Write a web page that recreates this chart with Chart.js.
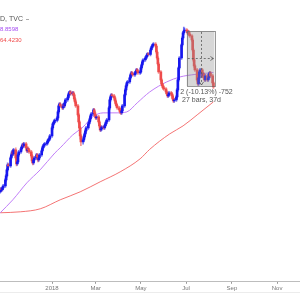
<!DOCTYPE html>
<html><head><meta charset="utf-8">
<script src="https://cdn.jsdelivr.net/npm/chart.js@4.4.1/dist/chart.umd.min.js"></script>
<style>html,body{margin:0;padding:0;background:#fff;}canvas{display:block;}</style>
</head><body>
<canvas id="c" width="300" height="300"></canvas>
<script>
// ---- data ----
const firstBarDate = '2017-10-23';
const opens = [5230,5243,5270,5257,5284, 5311,5393,5448,5530,5598, 5584,5693,5734,5775,5748, 5803,5693,5611,5639,5734,
 5775,5816,5843,5871,5857, 5884,5830,5789,5816,5803, 5775,5721,5652,5625,5666, 5693,5734,5707,5666,5693,
 5734,5789,5830,5857,5871, 5884,5898,5925,5939,5953, 5994,6103,6157,6171,6198, 6205,6239,6321,6403,6430,
 6403,6376,6417,6403,6444, 6485,6512,6553,6581,6594, 6567,6581,6553,6499,6458, 6403,6280,6185,6103,5994,
 5912,5939,5980,6021,6062, 6103,6157,6185,6226,6267, 6294,6349,6308,6267,6239, 6253,6185,6130,6076,6089,
 6116,6103,6130,6157,6185, 6212,6376,6485,6526,6553, 6540,6512,6471,6430,6403, 6376,6349,6321,6308,6335,
 6403,6553,6622,6676,6717, 6731,6785,6826,6854,6840, 6826,6854,6867,6895,6881, 6854,6867,6922,6963,7004,
 7031,7058,7072,7099,7113, 7106,7167,7195,7222,7236, 7249,7222,7140,7058,6976, 6867,6758,6703,6676,6649,
 6635,6594,6567,6540,6553, 6581,6567,6540,6499,6471, 6485,6526,6622,6758,6922, 7058,7236,7331,7400,7427,
 7440,7427,7400,7413,7386, 7359,7304,7167,7031,6949, 6895,6758,6703,6785,6867, 6895,6813,6840,6785,6758,
 6813,6758,6785,6840,6854, 6813,6717];
const highs = [5263,5290,5290,5304,5331, 5413,5468,5550,5625,5618, 5713,5754,5795,5809,5823, 5830,5713,5659,5754,5795,
 5836,5863,5891,5898,5904, 5904,5850,5836,5843,5823, 5795,5741,5672,5686,5713, 5754,5754,5727,5713,5754,
 5809,5850,5877,5891,5904, 5918,5945,5959,5973,6014, 6123,6177,6191,6218,6225, 6259,6341,6423,6450,6450,
 6423,6437,6437,6464,6505, 6532,6573,6601,6614,6614, 6601,6601,6573,6519,6478, 6423,6300,6205,6123,6014,
 5959,6000,6041,6082,6123, 6177,6205,6246,6287,6314, 6369,6369,6328,6287,6273, 6273,6205,6150,6109,6136,
 6136,6150,6177,6205,6232, 6396,6505,6546,6573,6573, 6560,6532,6491,6450,6423, 6396,6369,6341,6355,6423,
 6573,6642,6696,6737,6751, 6805,6846,6874,6874,6860, 6874,6887,6915,6915,6901, 6887,6942,6983,7024,7051,
 7078,7092,7119,7133,7133, 7187,7215,7242,7256,7269, 7269,7242,7160,7078,6996, 6887,6778,6723,6696,6669,
 6655,6614,6587,6573,6601, 6601,6587,6560,6519,6505, 6546,6642,6778,6942,7078, 7256,7351,7420,7481,7468,
 7460,7447,7433,7433,7406, 7379,7324,7187,7051,6969, 6915,6778,6805,6887,6915, 6915,6860,6860,6805,6833,
 6833,6805,6860,6874,6874, 6833,6737];
const lows = [5210,5223,5237,5243,5264, 5291,5373,5428,5510,5564, 5564,5673,5714,5728,5728, 5673,5584,5591,5619,5714,
 5755,5796,5823,5837,5837, 5810,5769,5769,5783,5755, 5701,5625,5598,5605,5646, 5673,5687,5639,5646,5673,
 5714,5769,5810,5837,5851, 5864,5878,5905,5919,5933, 5974,6083,6137,6151,6178, 6185,6219,6301,6383,6383,
 6356,6356,6383,6383,6424, 6465,6492,6533,6561,6547, 6547,6533,6479,6438,6383, 6260,6165,6083,5950,5860,
 5880,5919,5960,6001,6042, 6083,6137,6165,6206,6247, 6274,6288,6247,6219,6219, 6165,6110,6056,6056,6069,
 6083,6083,6110,6137,6165, 6192,6356,6465,6506,6520, 6492,6451,6410,6383,6356, 6329,6301,6288,6288,6315,
 6383,6533,6602,6656,6697, 6711,6765,6806,6820,6806, 6806,6834,6847,6861,6834, 6834,6847,6902,6943,6984,
 7011,7038,7052,7079,7086, 7086,7147,7175,7202,7216, 7202,7120,7038,6956,6847, 6738,6683,6656,6629,6615,
 6574,6547,6520,6520,6533, 6547,6520,6479,6451,6451, 6465,6506,6602,6738,6902, 7038,7216,7311,7380,7407,
 7407,7380,7380,7366,7339, 7284,7147,7011,6929,6875, 6738,6683,6683,6765,6847, 6793,6793,6765,6738,6738,
 6738,6738,6765,6820,6793, 6697,6642];
const closes = [5243,5270,5257,5284,5311, 5393,5448,5530,5598,5584, 5693,5734,5775,5748,5803, 5693,5611,5639,5734,5775,
 5816,5843,5871,5857,5884, 5830,5789,5816,5803,5775, 5721,5652,5625,5666,5693, 5734,5707,5666,5693,5734,
 5789,5830,5857,5871,5884, 5898,5925,5939,5953,5994, 6103,6157,6171,6198,6205, 6239,6321,6403,6430,6403,
 6376,6417,6403,6444,6485, 6512,6553,6581,6594,6567, 6581,6553,6499,6458,6403, 6280,6185,6103,5994,5912,
 5939,5980,6021,6062,6103, 6157,6185,6226,6267,6294, 6349,6308,6267,6239,6253, 6185,6130,6076,6089,6116,
 6103,6130,6157,6185,6212, 6376,6485,6526,6553,6540, 6512,6471,6430,6403,6376, 6349,6321,6308,6335,6403,
 6553,6622,6676,6717,6731, 6785,6826,6854,6840,6826, 6854,6867,6895,6881,6854, 6867,6922,6963,7004,7031,
 7058,7072,7099,7113,7106, 7167,7195,7222,7236,7249, 7222,7140,7058,6976,6867, 6758,6703,6676,6649,6635,
 6594,6567,6540,6553,6581, 6567,6540,6499,6471,6485, 6526,6622,6758,6922,7058, 7236,7331,7400,7427,7440,
 7427,7400,7413,7386,7359, 7304,7167,7031,6949,6895, 6758,6703,6785,6867,6895, 6813,6840,6785,6758,6813,
 6758,6785,6840,6854,6813, 6717,6662];

const maFastDates = ['2017-10-23','2017-11-09','2017-11-28','2017-12-16','2018-01-05','2018-01-12','2018-01-29','2018-02-12','2018-02-25','2018-03-11','2018-03-30','2018-04-12','2018-04-26','2018-05-13','2018-06-05','2018-06-23','2018-07-13','2018-08-07'];
const maFastValues = [4943,5120,5352,5530,5762,5830,6007,6116,6253,6308,6308,6321,6444,6594,6731,6799,6833,6859];
const maSlowDates = ['2017-10-23','2017-11-19','2017-12-16','2018-01-12','2018-02-08','2018-03-07','2018-04-03','2018-04-30','2018-05-13','2018-06-09','2018-06-27','2018-07-16','2018-08-07'];
const maSlowValues = [4943,4956,4997,5120,5229,5366,5502,5680,5810,6021,6130,6280,6458];

const tickDates = ['2018-01-01','2018-03-01','2018-05-01','2018-07-01','2018-09-01','2018-11-01'];
const tickLabels = ['2018','Mar','May','Jul','Sep','Nov'];
const viewRange = ['2017-10-23','2018-12-02'];
const priceRange = [4000, 7850];

const legendTexts = ['D, TVC', '8.8598', '64.4230'];
const measureDates = ['2018-07-02','2018-08-07'];
const measurePrices = [7427, 6675];
const measureTexts = ['2 (-10.13%) -752', '27 bars, 37d'];

// ---- helpers ----
const dayOf = s => { const [y,m,d] = s.split('-').map(Number); return (Date.UTC(y,m-1,d) - Date.UTC(2018,0,1)) / 864e5; };
const barDays = [];
for (let d = dayOf(firstBarDate); barDays.length < closes.length; d++) {
  const wd = ((d % 7) + 7) % 7; if (wd < 5) barDays.push(d);
}
const UP = '#1717ee', DOWN = '#ee4b4b';
const bodyColors = closes.map((c,i) => c >= opens[i] ? UP : DOWN);
const wickColors = closes.map((c,i) => c >= opens[i] ? 'rgba(30,30,235,0.6)' : 'rgba(238,75,75,0.6)');
const labelMap = {}; tickDates.forEach((t,i) => labelMap[dayOf(t)] = tickLabels[i]);
const FONT = "'Liberation Sans', Arial, sans-serif";

const overlay = {
  id: 'overlay',
  afterDatasetsDraw(chart) {
    const {ctx, scales:{x, y}} = chart;
    const x1 = x.getPixelForValue(dayOf(measureDates[0])), x2 = x.getPixelForValue(dayOf(measureDates[1])) + 1;
    const y1 = y.getPixelForValue(measurePrices[0]), y2 = y.getPixelForValue(measurePrices[1]);
    ctx.save();
    ctx.fillStyle = 'rgba(140,140,140,0.35)';
    ctx.fillRect(x1, y1, x2 - x1, y2 - y1);
    ctx.strokeStyle = 'rgba(110,110,110,0.7)'; ctx.lineWidth = 1;
    ctx.strokeRect(Math.round(x1)+0.5, Math.round(y1)+0.5, Math.round(x2-x1), Math.round(y2-y1));
    const cx = Math.round((x1 + x2) / 2) + 0.5, cy = Math.round((y1 + y2) / 2) + 0.5;
    ctx.setLineDash([2,2]); ctx.strokeStyle = 'rgba(90,90,90,0.8)';
    ctx.beginPath(); ctx.moveTo(cx, y1 + 1); ctx.lineTo(cx, y2 - 1); ctx.stroke();
    ctx.beginPath(); ctx.moveTo(x1 + 1, cy); ctx.lineTo(x2 - 1, cy); ctx.stroke();
    ctx.setLineDash([]);
    ctx.beginPath(); ctx.moveTo(cx - 2, y2 - 4); ctx.lineTo(cx, y2 - 1); ctx.lineTo(cx + 2, y2 - 4); ctx.stroke();
    ctx.beginPath(); ctx.moveTo(x2 - 4, cy - 2); ctx.lineTo(x2 - 1, cy); ctx.lineTo(x2 - 4, cy + 2); ctx.stroke();
    ctx.fillStyle = '#555'; ctx.font = '7px ' + FONT; ctx.textAlign = 'center'; ctx.textBaseline = 'middle';
    ctx.fillText(measureTexts[0], cx + 5, y2 + 6);
    ctx.fillText(measureTexts[1], cx, y2 + 14);
    ctx.restore();
  },
  afterDraw(chart) {
    const {ctx} = chart;
    ctx.save();
    ctx.textAlign = 'left'; ctx.textBaseline = 'middle';
    ctx.font = '7px ' + FONT; ctx.fillStyle = '#555';
    ctx.fillText(legendTexts[0], 0, 19);
    ctx.strokeStyle = '#aaa'; ctx.lineWidth = 1;
    ctx.beginPath(); ctx.moveTo(26, 19.5); ctx.lineTo(29, 19.5); ctx.stroke();
    ctx.font = '6px ' + FONT;
    ctx.fillStyle = '#a64df2'; ctx.fillText(legendTexts[1], 0, 29);
    ctx.fillStyle = '#f04a4a'; ctx.fillText(legendTexts[2], 0, 40);
    ctx.strokeStyle = '#ececec';
    ctx.beginPath(); ctx.moveTo(0, 292.5); ctx.lineTo(300, 292.5); ctx.stroke();
    ctx.restore();
  }
};

new Chart(document.getElementById('c'), {
  type: 'bar',
  data: {
    datasets: [
      { type:'bar', data: barDays.map((d,i) => ({x:d, y:[opens[i], closes[i]]})), backgroundColor: bodyColors, barThickness: 2, grouped: false, order: 1 },
      { type:'bar', data: barDays.map((d,i) => ({x:d, y:[lows[i], highs[i]]})), backgroundColor: wickColors, barThickness: 1, grouped: false, order: 2 },
      { type:'line', data: maFastDates.map((s,i) => ({x:dayOf(s), y:maFastValues[i]})), borderColor:'#c07ef8', borderWidth:1, pointRadius:0, cubicInterpolationMode:'monotone', order: 3 },
      { type:'line', data: maSlowDates.map((s,i) => ({x:dayOf(s), y:maSlowValues[i]})), borderColor:'#f47474', borderWidth:1, pointRadius:0, cubicInterpolationMode:'monotone', order: 4 }
    ]
  },
  options: {
    responsive: false, animation: false, events: [],
    layout: { padding: { left:0, right:0, top:0, bottom:7 } },
    plugins: { legend: { display:false }, tooltip: { enabled:false } },
    scales: {
      x: {
        type:'linear', min: dayOf(viewRange[0]) - 0.3, max: dayOf(viewRange[1]), offset:false,
        grid: { display:true, drawOnChartArea:false, drawTicks:true, tickLength:2, color:'#999', offset:false },
        border: { display:true, color:'#bdbdbd', width:1 },
        afterBuildTicks: s => { s.ticks = tickDates.map(t => ({ value: dayOf(t) })); },
        ticks: { autoSkip:false, maxRotation:0, padding:1, color:'#777', font:{ family:FONT, size:6 },
                 callback: v => labelMap[v] ?? '' }
      },
      y: { type:'linear', display:false, min: priceRange[0], max: priceRange[1] }
    }
  },
  plugins: [overlay]
});
</script>
</body></html>
